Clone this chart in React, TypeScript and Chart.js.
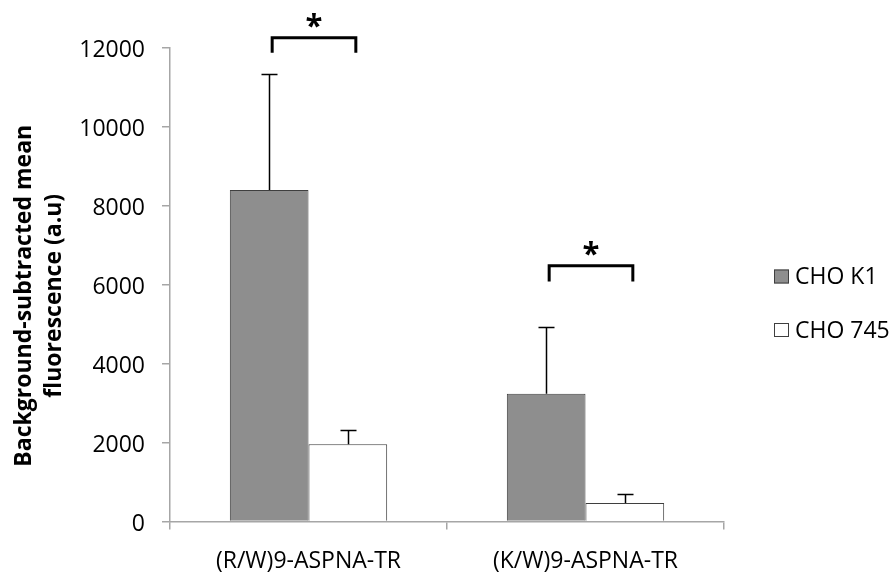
import React, { useEffect, useRef } from "react";
import { Chart, registerables } from "chart.js";

Chart.register(...registerables);

const categories = ["(R/W)9-ASPNA-TR", "(K/W)9-ASPNA-TR"];
const seriesNames = ["CHO K1", "CHO 745"];
const choK1 = [8400, 3240];
const choK1Err = [2930, 1680];
const cho745 = [1960, 470];
const cho745Err = [350, 230];
const bracketTop = [12260, 6480];
const bracketLeg = [11880, 6080];
const yTicks = [0, 2000, 4000, 6000, 8000, 10000, 12000];
const yTitleLines = ["Background-subtracted mean", "fluorescence (a.u)"];

const FONT = "'Open Sans', 'DejaVu Sans', sans-serif";
const TEXT_WEIGHT = 500;
const AXIS_GRAY = "#a6a6a6";
const BAR_EDGE = "#3f3f3f";
const K1_FILL = "#8e8e8e";

const errors = [choK1Err, cho745Err];

const errorBarPlugin = {
  id: "errorBars",
  afterDatasetsDraw(chart: any) {
    const ctx = chart.ctx;
    const yScale = chart.scales.y;
    ctx.save();
    ctx.strokeStyle = "#000";
    ctx.lineWidth = 1.5;
    chart.data.datasets.forEach((ds: any, di: number) => {
      const meta = chart.getDatasetMeta(di);
      meta.data.forEach((bar: any, i: number) => {
        const v = ds.data[i];
        const e = errors[di][i];
        const x = Math.round(bar.x) + 0.5;
        const y0 = yScale.getPixelForValue(v);
        const y1 = Math.round(yScale.getPixelForValue(v + e)) + 0.5;
        ctx.beginPath();
        ctx.moveTo(x, y0);
        ctx.lineTo(x, y1);
        ctx.moveTo(x - 8, y1);
        ctx.lineTo(x + 8, y1);
        ctx.stroke();
      });
    });
    ctx.restore();
  },
};

const annotationPlugin = {
  id: "annotations",
  afterDraw(chart: any) {
    const ctx = chart.ctx;
    const yScale = chart.scales.y;
    const m0 = chart.getDatasetMeta(0);
    const m1 = chart.getDatasetMeta(1);
    const area = chart.chartArea;
    ctx.save();
    // y-axis title (two lines, rotated)
    ctx.save();
    ctx.font = `bold 23px ${FONT}`;
    ctx.fillStyle = "#000";
    ctx.textAlign = "center";
    ctx.textBaseline = "middle";
    const titleCy = (area.top + area.bottom) / 2 + 11;
    yTitleLines.forEach((line, i) => {
      ctx.save();
      ctx.translate(24 + i * 30, titleCy);
      ctx.rotate(-Math.PI / 2);
      ctx.fillText(line, 0, 0);
      ctx.restore();
    });
    ctx.restore();
    // significance brackets
    ctx.strokeStyle = "#000";
    ctx.lineWidth = 3;
    ctx.lineJoin = "miter";
    categories.forEach((_, i) => {
      const x1 = m0.data[i].x + 3;
      const x2 = m1.data[i].x + 8;
      const yt = yScale.getPixelForValue(bracketTop[i]);
      const yl = yScale.getPixelForValue(bracketLeg[i]);
      ctx.beginPath();
      ctx.moveTo(x1, yl);
      ctx.lineTo(x1, yt);
      ctx.lineTo(x2, yt);
      ctx.lineTo(x2, yl);
      ctx.stroke();
      ctx.font = `bold 31px ${FONT}`;
      ctx.fillStyle = "#000";
      ctx.textAlign = "center";
      ctx.textBaseline = "alphabetic";
      const mt = ctx.measureText("*");
      const glyphH = mt.actualBoundingBoxAscent + mt.actualBoundingBoxDescent;
      const cy = yt - 17.5;
      const baseY = cy + glyphH / 2 - mt.actualBoundingBoxDescent;
      ctx.fillText("*", (x1 + x2) / 2, baseY);
    });
    // legend
    const lx = area.right + 50;
    const rows = [area.top + 228.5, area.top + 282];
    const fills = [K1_FILL, "#ffffff"];
    ctx.font = `${TEXT_WEIGHT} 23px ${FONT}`;
    ctx.textAlign = "left";
    ctx.textBaseline = "middle";
    seriesNames.forEach((name, i) => {
      const cy = rows[i];
      ctx.fillStyle = fills[i];
      ctx.fillRect(lx, cy - 7, 15, 14);
      ctx.strokeStyle = BAR_EDGE;
      ctx.lineWidth = 1;
      ctx.strokeRect(lx + 0.5, cy - 6.5, 14, 13);
      ctx.fillStyle = "#000";
      ctx.fillText(name, lx + 21, cy + 1);
    });
    ctx.restore();
  },
};

export default function App() {
  const canvasRef = useRef<HTMLCanvasElement | null>(null);

  useEffect(() => {
    if (!canvasRef.current) return;
    const chart = new Chart(canvasRef.current, {
      type: "bar",
      data: {
        labels: categories,
        datasets: [
          {
            label: seriesNames[0],
            data: choK1,
            backgroundColor: K1_FILL,
            borderColor: BAR_EDGE,
            borderWidth: 1,
            categoryPercentage: 0.568,
            barPercentage: 1.0,
          },
          {
            label: seriesNames[1],
            data: cho745,
            backgroundColor: "#ffffff",
            borderColor: BAR_EDGE,
            borderWidth: 1,
            categoryPercentage: 0.568,
            barPercentage: 1.0,
          },
        ],
      },
      options: {
        animation: false,
        responsive: true,
        maintainAspectRatio: false,
        layout: { padding: { top: 48, right: 167, left: 0, bottom: 0 } },
        plugins: {
          legend: { display: false },
          tooltip: { enabled: false },
        },
        font: { family: FONT },
        scales: {
          x: {
            type: "category",
            offset: true,
            grid: {
              display: true,
              offset: true,
              drawOnChartArea: false,
              drawTicks: true,
              tickLength: 8,
              color: AXIS_GRAY,
              lineWidth: 1.5,
            },
            border: { color: AXIS_GRAY, width: 1.5 },
            ticks: {
              color: "#000",
              padding: 18,
              font: { family: FONT, size: 23, weight: TEXT_WEIGHT },
            },
            afterFit: (s: any) => {
              s.height = 51.5;
            },
          },
          y: {
            min: 0,
            max: 12000,
            afterBuildTicks: (s: any) => {
              s.ticks = yTicks.map((v) => ({ value: v }));
            },
            grid: {
              display: true,
              drawOnChartArea: false,
              drawTicks: true,
              tickLength: 8,
              color: AXIS_GRAY,
              lineWidth: 1.5,
            },
            border: { color: AXIS_GRAY, width: 1.5 },
            ticks: {
              color: "#000",
              padding: 17,
              labelOffset: 2.5,
              font: { family: FONT, size: 23, weight: TEXT_WEIGHT },
              callback: (v: any) => String(v),
            },
            title: { display: false },
            afterFit: (s: any) => {
              s.width = 170;
            },
          },
        },
      } as any,
      plugins: [errorBarPlugin, annotationPlugin],
    });
    return () => chart.destroy();
  }, []);

  return (
    <div
      style={{
        position: "fixed",
        left: 0,
        top: 0,
        width: 891,
        height: 573,
        background: "#ffffff",
      }}
    >
      <canvas ref={canvasRef} />
    </div>
  );
}
